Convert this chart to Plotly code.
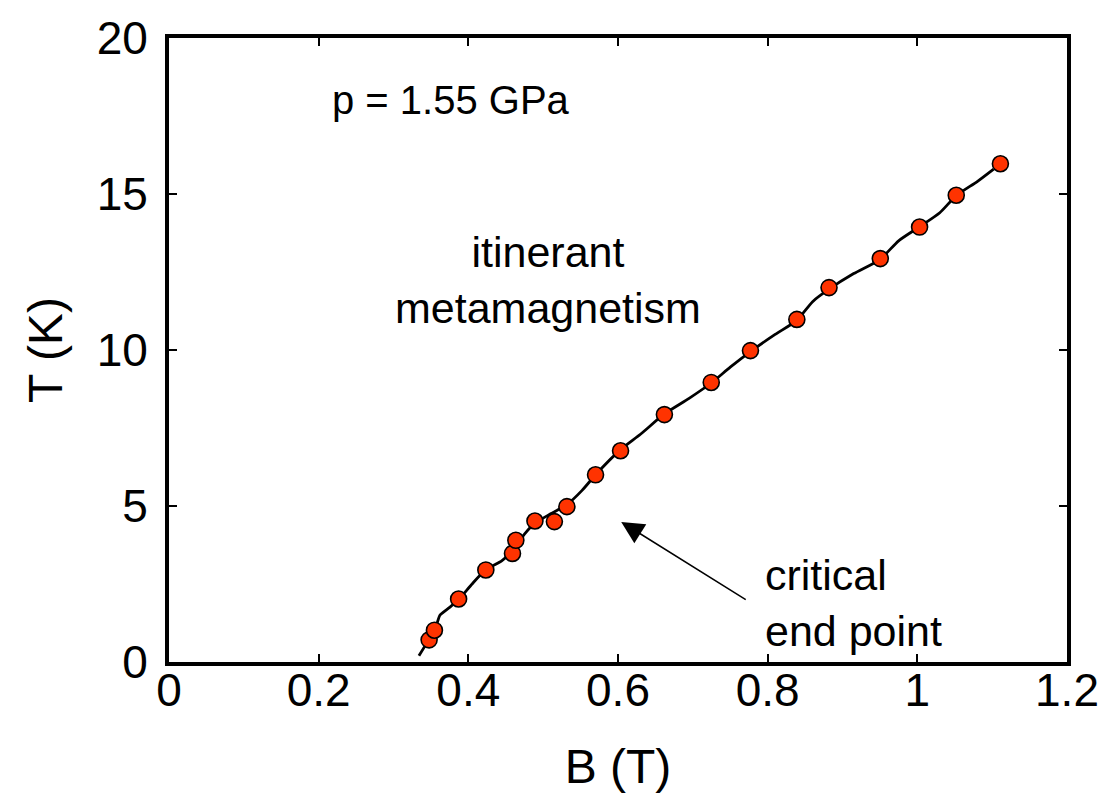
import plotly.graph_objects as go

# Measured data points (B in tesla, T in kelvin)
B_pts = [0.3476, 0.3547, 0.387, 0.4234, 0.459, 0.4635, 0.489, 0.515, 0.5317,
         0.570, 0.6034, 0.662, 0.7246, 0.777, 0.839, 0.882, 0.9505, 1.003,
         1.052, 1.111]
T_pts = [0.71, 1.02, 2.02, 2.95, 3.48, 3.9, 4.52, 4.5, 4.98,
         6.0, 6.77, 7.93, 8.96, 9.98, 10.98, 12.0, 12.93, 13.94,
         14.96, 15.97]

# Continuous transition line
B_line = [0.334, 0.348, 0.357, 0.362, 0.375, 0.387, 0.405, 0.423, 0.445, 0.46,
          0.475, 0.489, 0.51, 0.532, 0.552, 0.57, 0.603, 0.63, 0.662, 0.695,
          0.725, 0.75, 0.777, 0.81, 0.839, 0.86, 0.882, 0.915, 0.95, 0.975,
          1.003, 1.03, 1.052, 1.08, 1.102]
T_line = [0.2, 0.75, 1.15, 1.5, 1.75, 2.0, 2.5, 2.95, 3.25, 3.6,
          4.1, 4.45, 4.75, 5.05, 5.5, 6.0, 6.8, 7.3, 7.95, 8.45,
          8.95, 9.45, 9.95, 10.5, 10.95, 11.55, 11.95, 12.45, 12.9, 13.5,
          13.95, 14.4, 14.95, 15.4, 15.8]

x_ticks = [0, 0.2, 0.4, 0.6, 0.8, 1.0, 1.2]
x_tick_text = ["0", "0.2", "0.4", "0.6", "0.8", "1", "1.2"]
y_ticks = [0, 5, 10, 15, 20]
y_tick_text = ["0", "5", "10", "15", "20"]

FONT = "Liberation Sans, Arial, Helvetica, sans-serif"

fig = go.Figure()
fig.add_trace(go.Scatter(x=B_line, y=T_line, mode="lines",
                         line=dict(color="black", width=2.8, shape="spline", smoothing=0.6),
                         showlegend=False, hoverinfo="skip"))
fig.add_trace(go.Scatter(x=B_pts, y=T_pts, mode="markers",
                         marker=dict(size=16, color="#ff3300",
                                     line=dict(color="black", width=1.6)),
                         showlegend=False))

ann_font = dict(family=FONT, size=43, color="black")
fig.add_annotation(x=0.377, y=18.0, text="p = 1.55 GPa", showarrow=False,
                   font=dict(family=FONT, size=40, color="black"),
                   xanchor="center", yanchor="middle")
fig.add_annotation(x=0.507, y=12.25, text="itinerant<br>metamagnetism", showarrow=False,
                   font=ann_font, xanchor="center", yanchor="middle", align="center")
fig.add_annotation(x=0.794, y=1.9, text="critical<br>end point", showarrow=False,
                   font=ann_font, xanchor="left", yanchor="middle", align="left")
fig.add_annotation(x=0.6043, y=4.49, ax=0.7727, ay=1.97,
                   xref="x", yref="y", axref="x", ayref="y",
                   text="", showarrow=True, arrowhead=2, arrowsize=3,
                   arrowwidth=1.5, arrowcolor="black")

axis_common = dict(showgrid=False, zeroline=False, showline=True,
                   linecolor="black", linewidth=4, mirror="ticks",
                   ticks="inside", ticklen=8, tickwidth=1.5, tickcolor="black",
                   tickfont=dict(family=FONT, size=46, color="black"))

fig.update_xaxes(range=[0, 1.2], tickvals=x_ticks, ticktext=x_tick_text,
                 ticklabelstandoff=-15,
                 title=dict(text="B (T)", font=dict(family=FONT, size=48, color="black"),
                            standoff=35),
                 **axis_common)
fig.update_yaxes(range=[0, 20], tickvals=y_ticks, ticktext=y_tick_text,
                 ticklabelstandoff=8,
                 title=dict(text="T (K)", font=dict(family=FONT, size=48, color="black"),
                            standoff=20),
                 **axis_common)

fig.update_layout(width=1117, height=797,
                  margin=dict(l=169, r=50, t=35, b=134, pad=0),
                  plot_bgcolor="white", paper_bgcolor="white",
                  font=dict(family=FONT, color="black"))

fig.write_html("out.html")
